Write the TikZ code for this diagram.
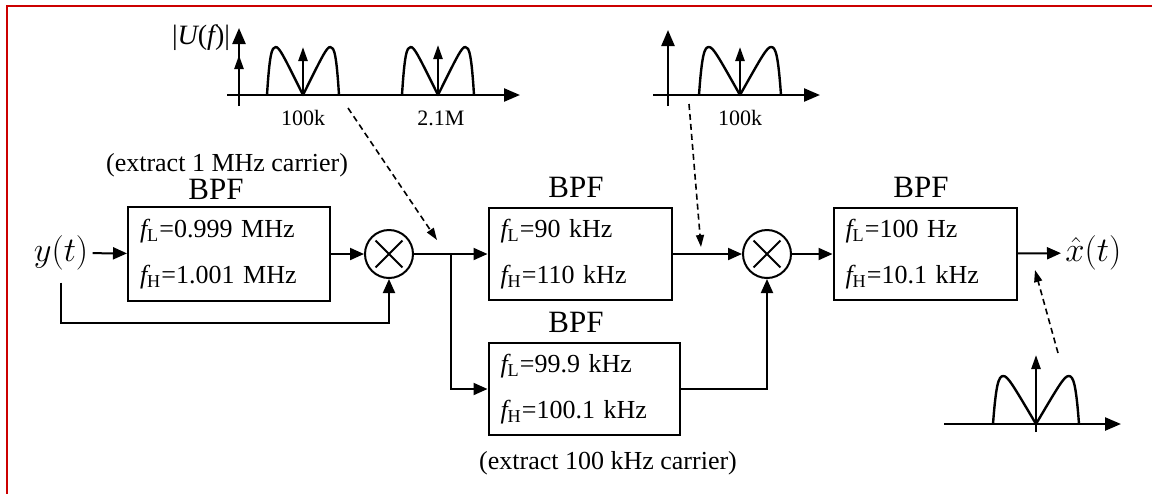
\documentclass[tikz,border=0pt]{standalone}
\usepackage{fontspec}
\setmainfont{Liberation Serif}
\usepackage{amsmath}
\usetikzlibrary{arrows.meta,calc}
\definecolor{framered}{RGB}{204,0,0}

% two sidebands round a carrier at #1 on axis height #2, half width #3
\newcommand{\lobes}[3]{%
  \draw[spec] ({#1-#3},#2) .. controls ({#1-0.93*#3},{#2-40}) and ({#1-0.87*#3},{#2-48}) .. ({#1-0.76*#3},{#2-48})
    .. controls ({#1-0.66*#3},{#2-48}) and ({#1-0.55*#3},{#2-40}) .. (#1,#2)
    .. controls ({#1+0.55*#3},{#2-40}) and ({#1+0.66*#3},{#2-48}) .. ({#1+0.76*#3},{#2-48})
    .. controls ({#1+0.87*#3},{#2-48}) and ({#1+0.93*#3},{#2-40}) .. ({#1+#3},#2);}

\begin{document}
\begin{tikzpicture}[x=0.5pt, y=-0.5pt,
    box/.style={draw, line width=1pt, inner xsep=6pt, align=left, minimum height=47pt, font=\fontsize{13}{23}\selectfont},
    mixer/.style={circle, draw, line width=1pt, minimum size=24pt, inner sep=0pt,
      path picture={\draw[line width=1pt] ($(path picture bounding box.center)+(-6.7pt,-6.7pt)$) -- ($(path picture bounding box.center)+(6.7pt,6.7pt)$)
        ($(path picture bounding box.center)+(-6.7pt,6.7pt)$) -- ($(path picture bounding box.center)+(6.7pt,-6.7pt)$);}},
    lbl/.style={font=\fontsize{15.5}{18}\selectfont, inner sep=1pt},
    note/.style={font=\fontsize{13}{15}\selectfont, inner sep=1pt},
    freq/.style={font=\fontsize{11}{13}\selectfont, inner sep=1pt},
    sig/.style={font=\fontsize{17}{20}\selectfont, inner sep=2pt},
    arr/.style={-{Triangle[length=7pt,width=6pt]}, line width=1pt},
    hint/.style={-{Triangle[length=6pt,width=4pt]}, line width=0.8pt, dash pattern=on 3pt off 2pt},
    axis/.style={-{Triangle[length=8pt,width=6.5pt]}, line width=1.2pt},
    imp/.style={-{Triangle[length=7pt,width=4.5pt]}, line width=1.2pt},
    spec/.style={line width=1.2pt, line join=round}
]
\useasboundingbox (0,0) rectangle (1152,494);
\draw[framered, line width=1pt] (1152,6) -- (7,6) -- (7,494);

% blocks
\node[sig] (yt) at (61,253) {$y(t)$};
\node[box, text width=89pt] (bpfA) at (229,254) {{\itshape f}\textsubscript{L}=0.999 MHz\\{\itshape f}\textsubscript{H}=1.001 MHz};
\node[mixer] (m1) at (389,254) {};
\node[box, text width=79.5pt, minimum height=46pt] (bpfB) at (580,254) {{\itshape f}\textsubscript{L}=90 kHz\\{\itshape f}\textsubscript{H}=110 kHz};
\node[box, text width=83.5pt, minimum height=46pt] (bpfC) at (584,389) {{\itshape f}\textsubscript{L}=99.9 kHz\\{\itshape f}\textsubscript{H}=100.1 kHz};
\node[mixer] (m2) at (767,254) {};
\node[box, text width=79.5pt, minimum height=46pt] (bpfD) at (925,254) {{\itshape f}\textsubscript{L}=100 Hz\\{\itshape f}\textsubscript{H}=10.1 kHz};
\node[sig, anchor=west] (xhat) at (1061,253) {$\hat{x}(t)$};

\node[note] (noteA) at (227,165) {(extract 1 MHz carrier)};
\node[lbl] (bpfAl) at (216,189) {BPF};
\node[lbl] (bpfBl) at (576,187) {BPF};
\node[lbl] (bpfCl) at (576,322) {BPF};
\node[lbl] (bpfDl) at (921,187) {BPF};
\node[note] (noteC) at (608,463) {(extract 100 kHz carrier)};

\coordinate (fb) at (389,323);
\coordinate (jn) at (451,254);

\draw[arr] (yt) -- (bpfA);
\draw[arr] ([yshift=-4pt]yt.south) |- (fb) -- (m1.south);
\draw[arr] (bpfA) -- (m1);
\draw[line width=1pt] (m1) -- (jn);
\draw[arr] (jn) -- (bpfB);
\draw[arr] (jn) |- (bpfC);
\draw[arr] (bpfB) -- (m2);
\draw[arr] (bpfC) -| (m2.south);
\draw[arr] (m2) -- (bpfD);
\draw[arr] (bpfD) -- (xhat);

% spectra
\node[font=\fontsize{14}{16}\selectfont, inner sep=1pt] (mag) at (201,38) {|{\itshape U}({\itshape f})|};
\draw[axis] (227,95) -- (520,95);
\draw[axis] (239,106) -- (239,28);
\draw[imp] (239,95) -- (239,55);
\draw[imp] (303,95) -- (303,47);
\draw[imp] (438,95) -- (438,45);
\lobes{303}{95}{36}
\lobes{438}{95}{36}
\node[freq] (fa) at (303,118) {100k};
\node[freq] (fb2) at (441,118) {2.1M};

\draw[axis] (653,95) -- (820,95);
\draw[axis] (668,106) -- (668,30);
\draw[imp] (740,95) -- (740,47);
\lobes{740}{95}{41}
\node[freq] (fc) at (740,118) {100k};

\draw[axis] (944,424) -- (1121,424);
\draw[imp] (1036,432) -- (1036,355);
\lobes{1036}{424}{43}

% pointers
\coordinate (h1s) at (348,108);
\coordinate (h1e) at (437,240);
\coordinate (h2s) at (689,104);
\coordinate (h2e) at (701,247);
\coordinate (h3s) at (1058,353);
\coordinate (h3e) at (1035,270);
\draw[hint] (h1s) -- (h1e);
\draw[hint] (h2s) -- (h2e);
\draw[hint] (h3s) -- (h3e);
\end{tikzpicture}
\end{document}
